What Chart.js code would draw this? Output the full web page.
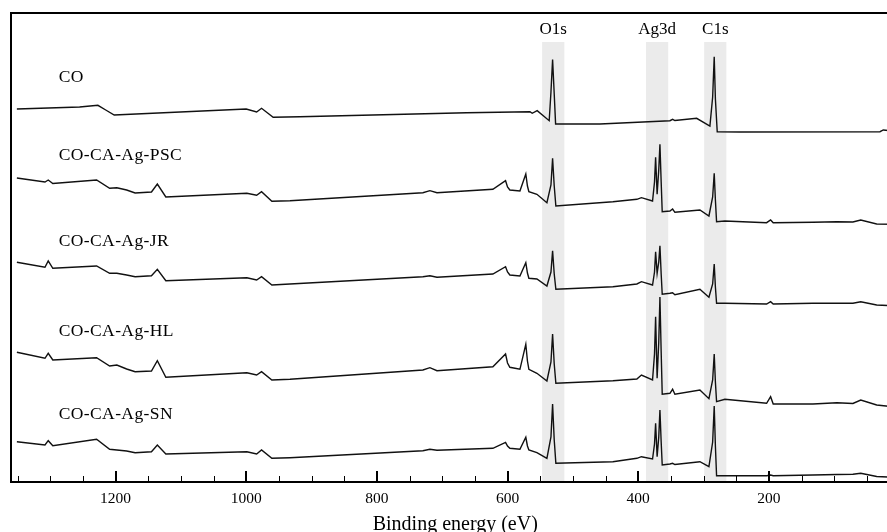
<!DOCTYPE html>
<html><head><meta charset="utf-8">
<script src="https://cdn.jsdelivr.net/npm/chart.js@4"></script>
<style>html,body{margin:0;padding:0;overflow:hidden;background:#fff}#wrap{width:900px;height:532px}</style>
</head><body><div id="wrap"><canvas id="c" width="900" height="532"></canvas></div>
<script>
// ---- data (binding energy in eV, intensity in arbitrary offset units) ----
const seriesNames = ['CO', 'CO-CA-Ag-PSC', 'CO-CA-Ag-JR', 'CO-CA-Ag-HL', 'CO-CA-Ag-SN'];

const energyCO = [1351, 1255, 1227, 1215, 1202, 1000, 984, 976.5, 958.7, 918, 662.6, 565.7, 562.2, 554.6, 536.2, 533.5, 531, 528.5, 526.4, 458.6, 351.4, 347.3, 343.8, 310.5, 290.2, 286, 283.6, 281.8, 279, 244.2, 29.9, 24.8, 10];
const intensityCO = [373, 375, 376.7, 372, 367, 373, 370, 373.7, 364.7, 365.3, 369.3, 370.3, 368.7, 371.3, 361.3, 390, 422.5, 388, 358, 358, 361.3, 362.7, 361.5, 363.7, 356, 385, 425.3, 383, 350.3, 350, 350.3, 352, 351];

const energyAg = [1351, 1308, 1303, 1296, 1229, 1209, 1198, 1183, 1170, 1145, 1136, 1123, 999, 984, 976.5, 960.7, 933, 729.5, 718.8, 708, 622.4, 603, 600, 596.4, 581, 572, 569.5, 567.3, 555, 539.7, 533.5, 531, 528.5, 526, 438.7, 402, 395, 378, 375, 373.3, 371, 368.5, 366.7, 364.8, 363.2, 351.4, 347.3, 343.8, 305.5, 291.7, 286, 283.6, 281.8, 280, 267.3, 203.4, 197.3, 193.3, 132.5, 95.8, 71.3, 59.3, 34.9, 10];
const intensityPSC = [304, 300, 302, 298.5, 302, 293.7, 294.3, 292, 289, 290, 298, 285, 288.7, 286.7, 290.3, 280.7, 281.3, 289.3, 291.3, 289.3, 292.7, 301.3, 295, 292, 291, 308, 296, 290.3, 287.7, 279.3, 297, 323.7, 296, 276, 280.3, 282.7, 284.3, 281, 300, 324.7, 287.7, 312, 337.7, 300, 270.3, 271, 273, 269.7, 272, 266, 285, 308.7, 282, 260.3, 261, 259.3, 262, 259.3, 259.7, 260.3, 260, 262, 258, 257.7];
const intensityJR = [219.7, 214.7, 221, 213.7, 216, 208.7, 208.7, 207, 205.3, 206.3, 212.7, 201.3, 204.3, 202, 205.3, 197, 198, 205.3, 206.3, 204.7, 208, 215.3, 210, 207, 206, 219.3, 209, 203.7, 203, 196, 210, 231.3, 208, 192.7, 195.3, 198, 200.3, 197, 210, 230.3, 208.7, 220, 236.3, 208, 187.7, 188.7, 189.3, 187.3, 192.7, 184.7, 198, 218, 195, 178.7, 178.7, 178, 180.3, 178, 178.7, 178.7, 178.7, 180.3, 177, 176.3];
const intensityHL = [129.7, 123.7, 128.7, 122, 124.3, 116, 117, 113, 110.3, 111, 121.3, 104.7, 109.3, 107, 110.3, 102, 102.7, 112, 114.3, 111.3, 115.3, 128, 119, 114.7, 112.7, 137.7, 121, 112.7, 108.7, 101, 120, 148, 118, 98.7, 101.3, 103, 107, 102, 128, 165.3, 103.7, 140, 185, 130, 87.7, 88.7, 92.7, 87.7, 92, 83.3, 102, 128, 100, 80.3, 82.7, 78.7, 85.3, 78, 78, 79.3, 78.5, 82, 77, 75.3];
const intensitySN = [40.3, 37, 41.3, 36.3, 42.7, 32.7, 32, 31, 29.3, 30.3, 37, 28, 30.3, 28, 32, 23.7, 24.3, 31.3, 32.7, 31.7, 33.7, 39.7, 36, 33.7, 32.7, 44.7, 36, 32, 29.3, 23.7, 45, 78, 42, 18.7, 20.3, 23.7, 25.3, 23, 38, 58.7, 25.3, 45, 72, 40, 17, 18, 18.7, 17.5, 20.3, 15.3, 40, 76, 36, 6.3, 6.3, 6.3, 7, 6.3, 7, 7.5, 7.7, 8.7, 5.5, 4.7];

const labelLevels = [400, 322, 236.3, 146.3, 62.7];   // where each sample name sits
const labelEnergy = 1287;

const bandLabels = ['O1s', 'Ag3d', 'C1s'];
const bandStart = [547, 388, 299];
const bandEnd = [513, 354, 265];
const bandTop = 440;
const bandLabelLevel = 447.7;

const tickLabels = [1200, 1000, 800, 600, 400, 200];
const majorTicks = [1200, 1000, 800, 600, 400, 200, 0];
const minorTicks = [1350, 1300, 1250, 1150, 1100, 1050, 950, 900, 850, 750, 700, 650, 550, 500, 450, 350, 300, 250, 150, 100, 50];

// ---- chart ----
const FONT = "'Liberation Serif', 'Times New Roman', serif";
const toPts = (xs, ys) => xs.map((e, i) => ({ x: e, y: ys[i] }));
const seriesData = [
  toPts(energyCO, intensityCO),
  toPts(energyAg, intensityPSC),
  toPts(energyAg, intensityJR),
  toPts(energyAg, intensityHL),
  toPts(energyAg, intensitySN)
];
const datasets = seriesNames.map((n, i) => ({
  label: n, data: seriesData[i], borderColor: '#111', borderWidth: 1.4,
  pointRadius: 0, tension: 0, fill: false
}));

const deco = {
  id: 'deco',
  beforeDatasetsDraw(chart) {
    const { ctx, chartArea: a, scales: { x, y } } = chart;
    ctx.save();
    ctx.fillStyle = '#ebebeb';
    const yt = y.getPixelForValue(bandTop);
    bandStart.forEach((s, i) => {
      const x1 = x.getPixelForValue(s), x2 = x.getPixelForValue(bandEnd[i]);
      ctx.fillRect(Math.min(x1, x2), yt, Math.abs(x2 - x1), a.bottom - yt);
    });
    ctx.restore();
  },
  afterDraw(chart) {
    const { ctx, chartArea: a, scales: { x, y } } = chart;
    ctx.save();
    ctx.strokeStyle = '#000';
    ctx.lineWidth = 2;
    ctx.beginPath();
    ctx.moveTo(a.left, a.top); ctx.lineTo(a.right + 5, a.top);
    ctx.moveTo(a.left, a.top - 1); ctx.lineTo(a.left, a.bottom + 1);
    ctx.moveTo(a.left - 1, a.bottom); ctx.lineTo(a.right + 5, a.bottom);
    ctx.stroke();
    // inward ticks
    ctx.lineWidth = 2;
    ctx.beginPath();
    majorTicks.forEach(v => { const px = Math.round(x.getPixelForValue(v)); ctx.moveTo(px, a.bottom); ctx.lineTo(px, a.bottom - 11); });
    ctx.stroke();
    ctx.lineWidth = 1;
    ctx.beginPath();
    minorTicks.forEach(v => { const px = Math.round(x.getPixelForValue(v)) + 0.5; ctx.moveTo(px, a.bottom); ctx.lineTo(px, a.bottom - 6); });
    ctx.stroke();
    // texts
    ctx.fillStyle = '#000';
    ctx.font = '17px ' + FONT;
    ctx.textBaseline = 'alphabetic';
    ctx.textAlign = 'center';
    bandLabels.forEach((t, i) => {
      ctx.fillText(t, x.getPixelForValue((bandStart[i] + bandEnd[i]) / 2), y.getPixelForValue(bandLabelLevel));
    });
    ctx.textAlign = 'left';
    ctx.font = '17.5px ' + FONT;
    if ('letterSpacing' in ctx) ctx.letterSpacing = '0.4px';
    seriesNames.forEach((t, i) => {
      ctx.fillText(t, x.getPixelForValue(labelEnergy), y.getPixelForValue(labelLevels[i]));
    });
    ctx.restore();
  }
};

new Chart(document.getElementById('c'), {
  type: 'line',
  data: { datasets },
  options: {
    responsive: false, animation: false, devicePixelRatio: 1,
    plugins: { legend: { display: false }, tooltip: { enabled: false } },
    layout: { padding: { top: 13, left: 11, right: 0.5, bottom: 0 } },
    scales: {
      x: {
        type: 'linear', reverse: true, min: 0, max: 1360,
        grid: { display: false }, border: { display: false },
        afterBuildTicks: s => { s.ticks = tickLabels.map(v => ({ value: v })); },
        afterFit: s => { s.height = 50; },
        ticks: { autoSkip: false, maxRotation: 0, padding: 0, color: '#000',
                 font: { family: FONT, size: 15.5 }, callback: v => String(v) },
        title: { display: true, text: 'Binding energy (eV)', color: '#000', padding: 0,
                 font: { family: FONT, size: 20, lineHeight: '15px' } }
      },
      y: { display: false, min: 0, max: 469 }
    }
  },
  plugins: [deco]
});
</script></body></html>
